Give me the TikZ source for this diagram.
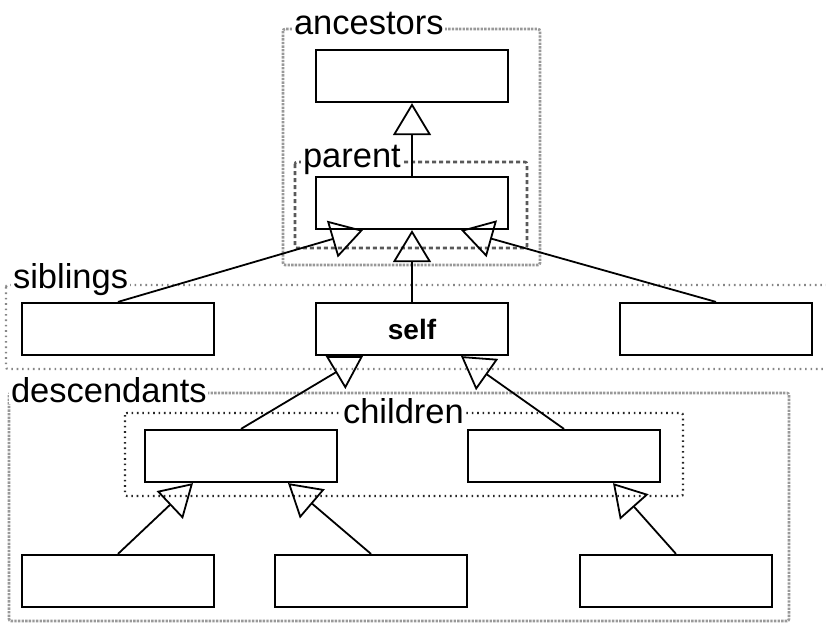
\documentclass[tikz,border=0pt]{standalone}
\usepackage{fontspec}
\setmainfont{Liberation Sans}
\usetikzlibrary{arrows.meta}

\begin{document}
\begin{tikzpicture}[x=0.5pt,y=-0.5pt,
    cls/.style={draw, line width=1.1pt, fill=white, minimum width=96pt,
      minimum height=26pt, inner sep=0pt, font=\fontsize{14}{16}\selectfont\bfseries},
    grpdash/.style={draw=gray!80, line width=1.3pt, dash pattern=on 1.2pt off 0.6pt, rounded corners=1pt},
    grpdot/.style={draw=black!85, line width=1.1pt, dash pattern=on 0.8pt off 1.9pt, rounded corners=1pt},
    grplabel/.style={anchor=base west, fill=white, inner sep=0.8pt, font=\fontsize{17.25}{20}\selectfont},
    isa/.style={-{Triangle[open, length=16pt, width=19pt]}, line width=0.9pt}]
  \useasboundingbox (0,0) rectangle (826,623);

  % groups
  \draw[grpdash] (283,29) rectangle (540,265);
  \draw[grpdash, draw=black!65, dash pattern=on 2pt off 1.5pt] (295,162) rectangle (527,248);
  \draw[grpdot, draw=gray!95] (6,285) rectangle (840,369);
  \draw[grpdash] (9,393) rectangle (789,621);
  \draw[grpdot] (125,413) rectangle (683,496);

  \node[grplabel] (lanc) at (292,34) {ancestors};
  \node[grplabel] (lpar) at (301,167) {parent};
  \node[grplabel] (lsib) at (11,288) {siblings};
  \node[grplabel] (ldes) at (9,402) {descendants};
  \node[grplabel] (lchi) at (341,423) {children};

  % classes
  \node[cls] (anc)  at (412,76)  {};
  \node[cls] (par)  at (412,203) {};
  \node[cls] (sibL) at (118,329) {};
  \node[cls] (self) at (412,329) {self};
  \node[cls] (sibR) at (716,329) {};
  \node[cls] (chL)  at (241,456) {};
  \node[cls] (chR)  at (564,456) {};
  \node[cls] (gcL)  at (118,581) {};
  \node[cls] (gcM)  at (371,581) {};
  \node[cls] (gcR)  at (676,581) {};

  % generalizations
  \draw[isa] (par.north) -- (anc.south);
  \draw[isa] (self.north) -- (par.south);
  \draw[isa] (sibL.north) -- ([xshift=-24.5pt]par.south);
  \draw[isa] (sibR.north) -- ([xshift=24.5pt]par.south);
  \draw[isa] (chL.north) -- ([xshift=-24.5pt]self.south);
  \draw[isa] (chR.north) -- ([xshift=24.5pt]self.south);
  \draw[isa] (gcL.north) -- ([xshift=-24pt]chL.south);
  \draw[isa] (gcM.north) -- ([xshift=23.5pt]chL.south);
  \draw[isa] (gcR.north) -- ([xshift=24.5pt]chR.south);
\end{tikzpicture}
\end{document}
